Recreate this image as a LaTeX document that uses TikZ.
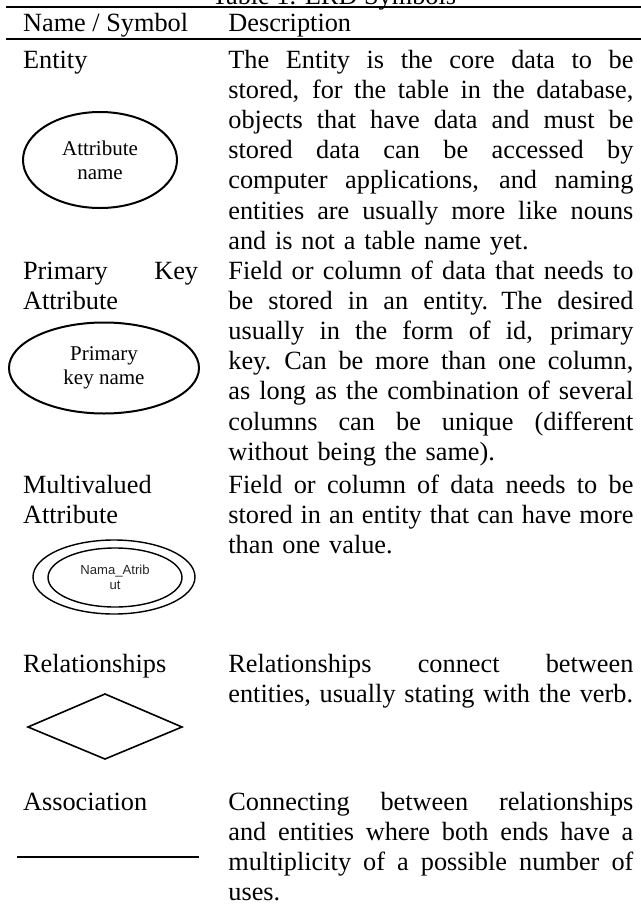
\documentclass[tikz,border=0pt]{standalone}
\usepackage{fontspec}
\setmainfont{Liberation Serif}
\newfontfamily\arialfont{Liberation Sans}
\usetikzlibrary{shapes.geometric}
\newcommand{\jl}[2][202.5pt]{\leavevmode\hbox to #1{\spaceskip=0.25em plus 1fil\relax #2}\\}
\begin{document}
\begin{tikzpicture}[x=0.5pt, y=-0.5pt,
    txt/.style={inner sep=0pt, anchor=base west, align=left, font=\fontsize{13.15}{15.1}\selectfont},
    desccol/.style={txt, text width=202.5pt},
    namecol/.style={txt, text width=87.5pt},
    symb/.style={draw, ellipse, line width=1pt, inner sep=0pt, align=center, font=\fontsize{10.5}{12}\selectfont}]
    \clip (0,0) rectangle (641,906);
    \node[txt, anchor=base] (cap) at (334,4) {Table 1. ERD Symbols};
    \draw[line width=1pt] (6,7.3) -- (641,7.3);
    \node[txt] (hname) at (22.7,31.7) {Name / Symbol};
    \node[txt] (hdesc) at (228,31.7) {Description};
    \draw[line width=1pt] (6,39.3) -- (641,39.3);

    \node[namecol] (n1) at (22.7,68) {Entity};
    \node[desccol] (d1) at (228,68) {\jl{The Entity is the core data to be}\jl{stored, for the table in the database,}\jl{objects that have data and must be}\jl{stored data can be accessed by}\jl{computer applications, and naming}\jl{entities are usually more like nouns}and is not a table name yet.};
    \node[symb, minimum width=77pt, minimum height=48pt] (attr) at (100,160) {Attribute\\name};

    \node[namecol] (n2) at (22.7,279) {\jl[87.5pt]{Primary Key}Attribute};
    \node[desccol] (d2) at (228,279) {\jl{Field or column of data that needs to}\jl{be stored in an entity. The desired}\jl{usually in the form of id, primary}\jl{key. Can be more than one column,}\jl{as long as the combination of several}\jl{columns can be unique (different}without being the same).};
    \node[symb, minimum width=95pt, minimum height=45.5pt] (pk) at (104,368) {Primary\\key name};

    \node[namecol] (n3) at (22.7,493) {Multivalued\\Attribute};
    \node[desccol] (d3) at (228,493) {\jl{Field or column of data needs to be}\jl{stored in an entity that can have more}than one value.};
    \node[symb, line width=0.7pt, minimum width=81pt, minimum height=37pt] (mvout) at (114,577) {};
    \node[symb, line width=0.7pt, minimum width=67pt, minimum height=29.5pt, font=\arialfont\fontsize{6.55}{7.2}\selectfont, text=black!85] (mv) at (115,577.5) {Nama\_Atrib\\ut};

    \node[namecol] (n4) at (22.7,672) {Relationships};
    \node[desccol] (d4) at (228,672) {\jl{Relationships connect between}entities, usually stating with the verb.};
    \draw[line width=0.8pt] (28,727) -- (105,694) -- (182,727) -- (105,759) -- cycle;

    \node[namecol] (n5) at (22.7,810) {Association};
    \node[desccol] (d5) at (228,810) {\jl{Connecting between relationships}\jl{and entities where both ends have a}\jl{multiplicity of a possible number of}uses.};
    \draw[line width=0.6pt] (17,857) -- (199,857);
\end{tikzpicture}
\end{document}
